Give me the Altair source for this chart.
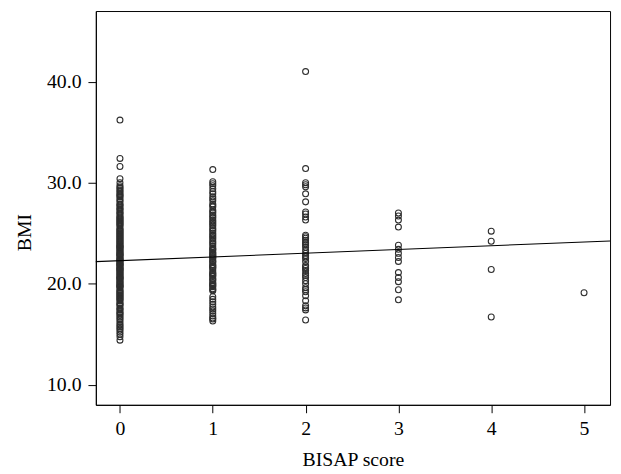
import altair as alt
import pandas as pd

bmi_0 = [36.2, 32.4, 31.6, 30.4, 30.0, 29.7, 29.4, 29.1, 28.8, 28.6, 28.4, 28.1, 27.9, 27.7,
         27.5, 27.3, 27.1, 26.9, 26.7, 26.5, 26.4, 26.2, 26.0, 25.9, 25.7, 25.5, 25.4, 25.2,
         25.0, 24.9, 24.7, 24.6, 24.4, 24.2, 24.1, 23.9, 23.8, 23.6, 23.5, 23.3, 23.2, 23.0,
         22.9, 22.8, 22.6, 22.5, 22.3, 22.2, 22.0, 21.9, 21.8, 21.6, 21.5, 21.3, 21.2, 21.0,
         20.9, 20.8, 20.6, 20.5, 20.3, 20.2, 20.0, 19.9, 19.7, 19.6, 19.4, 19.3, 19.1, 19.0,
         18.8, 18.6, 18.5, 18.3, 18.1, 18.0, 17.8, 17.6, 17.4, 17.2, 17.0, 16.7, 16.4, 16.0,
         15.7, 15.4, 15.0, 14.4, 22.1, 23.4, 21.7, 24.5, 20.7, 22.7, 23.1, 21.1, 25.3, 19.8,
         22.4, 20.4, 24.0, 21.4, 23.7, 18.9, 26.1, 22.9, 21.9, 20.1, 29.55, 29.25, 28.95,
         28.7, 28.25, 27.8, 27.4, 27.0, 26.6, 26.3, 25.8, 25.1, 24.8, 24.3, 23.65, 22.35,
         21.45, 20.55, 19.75, 19.2, 18.7, 18.4, 17.9, 17.5, 17.1, 16.85, 16.55, 16.2, 15.85,
         15.55, 15.2, 14.75]
bmi_1 = [31.3, 30.1, 29.7, 29.4, 29.1, 28.6, 28.2, 27.9, 27.6, 27.3, 27.0, 26.8, 26.5, 26.3,
         26.0, 25.7, 25.5, 25.2, 25.0, 24.7, 24.4, 24.2, 23.9, 23.7, 23.5, 23.3, 23.1, 22.9,
         22.7, 22.5, 22.3, 22.1, 21.9, 21.7, 21.5, 21.3, 21.1, 20.9, 20.7, 20.5, 20.3, 20.1,
         19.9, 19.7, 19.5, 19.3, 18.7, 18.2, 17.7, 17.3, 16.8, 16.5, 16.3, 27.75, 27.15,
         26.65, 25.85, 25.35, 24.55, 24.05, 23.4, 22.8, 22.2, 21.6, 21.0, 20.4, 19.8, 29.9,
         28.9, 28.4, 26.15, 24.85, 23.0, 22.6, 21.8, 20.8, 20.0, 19.4, 18.45, 17.95, 17.5,
         17.05, 16.6]
bmi_2 = [41.0, 31.4, 30.0, 29.8, 29.6, 28.9, 28.1, 27.1, 26.9, 26.6, 26.3, 24.8, 24.5, 24.3,
         24.1, 23.8, 23.6, 23.3, 23.0, 22.8, 22.5, 22.2, 21.8, 21.5, 21.3, 21.0, 20.6, 20.3,
         20.0, 19.6, 19.2, 18.8, 18.3, 17.8, 17.4, 16.4, 24.65, 23.95, 22.65, 21.65, 20.8,
         19.4, 17.6]
bmi_3 = [27.0, 26.7, 26.3, 25.6, 23.8, 23.4, 23.0, 22.6, 22.2, 21.1, 20.6, 20.2, 19.4, 18.4]
bmi_4 = [25.2, 24.2, 21.4, 16.7]
bmi_5 = [19.1]

line_x = [-0.26, 5.28]
line_y = [22.18, 24.23]

x_ticks = [0, 1, 2, 3, 4, 5]
y_ticks = [10, 20, 30, 40]

rows = []
for score, vals in enumerate([bmi_0, bmi_1, bmi_2, bmi_3, bmi_4, bmi_5]):
    for v in vals:
        rows.append({"score": score, "bmi": v})
pts = pd.DataFrame(rows)
line_df = pd.DataFrame({"score": line_x, "bmi": line_y})

FONT = "Liberation Serif"

xscale = alt.Scale(domain=[-0.26, 5.28], nice=False, zero=False)
yscale = alt.Scale(domain=[8, 47], nice=False, zero=False)

xaxis = alt.Axis(values=x_ticks, title="BISAP score", grid=False, tickSize=8,
                 labelPadding=6, titleY=55, titleBaseline="middle", format="d")
yaxis = alt.Axis(values=y_ticks, title="BMI", grid=False, tickSize=8, format=".1f",
                 labelPadding=7, titleX=-72, titleY=224, titleAngle=270,
                 titleAlign="center", titleBaseline="middle")

points = alt.Chart(pts).mark_point(
    filled=False, size=36, stroke="#2e2e2e", strokeWidth=1.1, opacity=1
).encode(
    x=alt.X("score:Q", scale=xscale, axis=xaxis),
    y=alt.Y("bmi:Q", scale=yscale, axis=yaxis),
)

line = alt.Chart(line_df).mark_line(color="black", strokeWidth=1.1).encode(
    x=alt.X("score:Q", scale=xscale),
    y=alt.Y("bmi:Q", scale=yscale),
)

chart = alt.layer(points, line).properties(
    width=521, height=399,
    autosize=alt.AutoSizeParams(type="none"),
    padding={"left": 89, "top": 0, "right": 3, "bottom": 66},
).configure_view(
    stroke="black", strokeWidth=1
).configure_axis(
    labelFont=FONT, titleFont=FONT, labelFontSize=20, titleFontSize=20,
    labelColor="black", titleColor="black", titleFontWeight="normal",
    domainColor="black", tickColor="black", domainWidth=1, tickWidth=1,
)

chart.save("out.html", embed_options={"renderer": "svg", "actions": False})
